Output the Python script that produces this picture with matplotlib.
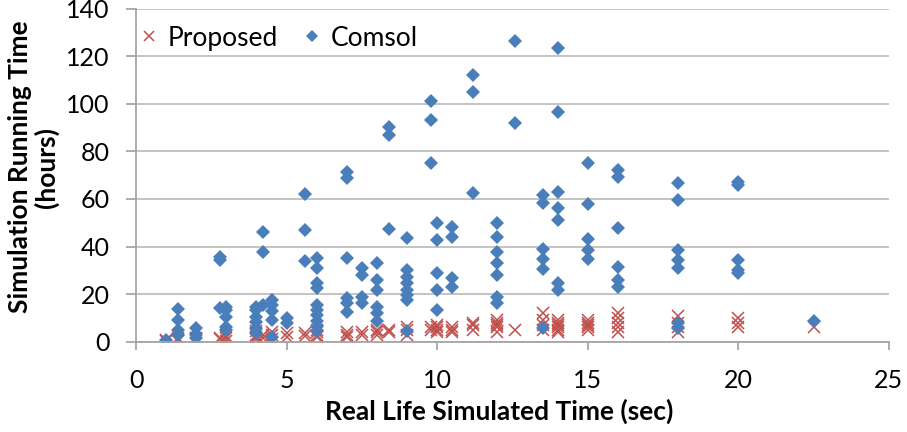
import matplotlib.pyplot as plt

# Simulation running time versus simulated real-life time
comsol_x = [1.0,
            1.4, 1.4, 1.4, 1.4,
            2.0, 2.0, 2.0,
            2.8, 2.8, 2.8,
            3.0, 3.0, 3.0, 3.0, 3.0,
            4.0, 4.0, 4.0, 4.0, 4.0, 4.0,
            4.2, 4.2, 4.2,
            4.5, 4.5, 4.5, 4.5, 4.5,
            5.0, 5.0,
            5.6, 5.6, 5.6,
            6.0, 6.0, 6.0, 6.0, 6.0, 6.0, 6.0, 6.0, 6.0, 6.0,
            7.0, 7.0, 7.0, 7.0, 7.0, 7.0,
            7.5, 7.5, 7.5, 7.5,
            8.0, 8.0, 8.0, 8.0, 8.0, 8.0,
            8.4, 8.4, 8.4,
            9.0, 9.0, 9.0, 9.0, 9.0, 9.0, 9.0, 9.0,
            9.8, 9.8, 9.8,
            10.0, 10.0, 10.0, 10.0, 10.0,
            10.5, 10.5, 10.5, 10.5,
            11.2, 11.2, 11.2,
            12.0, 12.0, 12.0, 12.0, 12.0, 12.0, 12.0,
            12.6, 12.6,
            13.5, 13.5, 13.5, 13.5, 13.5, 13.5,
            14.0, 14.0, 14.0, 14.0, 14.0, 14.0, 14.0,
            15.0, 15.0, 15.0, 15.0, 15.0,
            16.0, 16.0, 16.0, 16.0, 16.0, 16.0,
            18.0, 18.0, 18.0, 18.0, 18.0, 18.0, 18.0,
            20.0, 20.0, 20.0, 20.0, 20.0,
            22.5]
comsol_y = [0.7,
            13.7, 9.1, 4.9, 2.8,
            5.6, 3.2, 1.4,
            35.7, 34.5, 14.2,
            14.8, 13.3, 10.5, 6.3, 4.9,
            14.8, 13.3, 10.5, 8.4, 5.6, 3.5,
            46.2, 37.8, 15.5,
            17.5, 15.5, 12.7, 9.1, 2.1,
            10.0, 8.0,
            62.1, 46.9, 34.1,
            35.0, 30.8, 24.5, 22.4, 15.5, 13.3, 11.2, 8.5, 6.4, 4.3,
            71.5, 68.7, 35.0, 18.2, 16.1, 12.6,
            30.8, 28.0, 19.0, 16.1,
            33.0, 26.0, 21.8, 14.8, 12.0, 8.5,
            90.4, 86.9, 47.2,
            43.7, 30.2, 27.4, 24.5, 21.8, 19.7, 17.6, 4.3,
            101.3, 93.4, 75.2,
            49.7, 42.7, 28.7, 21.8, 13.3,
            48.3, 44.1, 26.6, 23.1,
            112.0, 105.0, 62.7,
            49.7, 44.1, 37.8, 33.0, 28.1, 19.0, 16.1,
            126.6, 92.1,
            61.7, 58.2, 38.8, 34.7, 30.5, 5.6,
            123.3, 96.7, 62.9, 56.1, 51.2, 24.5, 21.8,
            75.0, 58.0, 43.0, 38.5, 34.7,
            72.1, 69.4, 47.7, 31.5, 26.0, 23.2,
            66.9, 59.6, 38.5, 34.3, 30.8, 7.7, 5.6,
            67.3, 65.9, 34.3, 30.2, 28.7,
            8.8]

proposed_x = [1.0, 1.0,
              1.4, 1.4, 1.4,
              2.0, 2.0, 2.0,
              2.8, 2.8,
              3.0, 3.0, 3.0,
              4.0, 4.0, 4.0, 4.0,
              4.2, 4.2,
              4.5, 4.5, 4.5,
              5.0, 5.0,
              5.6, 5.6,
              6.0, 6.0, 6.0, 6.0,
              7.0, 7.0, 7.0,
              7.5, 7.5,
              8.0, 8.0, 8.0,
              8.4, 8.4,
              9.0, 9.0, 9.0,
              9.8, 9.8,
              10.0, 10.0, 10.0, 10.0,
              10.5, 10.5, 10.5,
              11.2, 11.2, 11.2,
              12.0, 12.0, 12.0, 12.0, 12.0,
              12.6,
              13.5, 13.5, 13.5, 13.5,
              14.0, 14.0, 14.0, 14.0, 14.0, 14.0,
              15.0, 15.0, 15.0, 15.0, 15.0,
              16.0, 16.0, 16.0, 16.0, 16.0,
              18.0, 18.0, 18.0, 18.0,
              20.0, 20.0, 20.0,
              22.5]
proposed_y = [0.3, 0.8,
              0.5, 1.0, 1.5,
              0.5, 1.0, 1.5,
              1.0, 1.5,
              0.5, 1.5, 2.5,
              1.0, 2.0, 3.0, 4.5,
              1.5, 3.0,
              1.0, 3.0, 4.0,
              2.0, 3.5,
              2.5, 3.5,
              2.0, 3.0, 4.0, 5.0,
              2.0, 3.0, 4.0,
              3.0, 4.0,
              3.0, 4.0, 5.0,
              4.0, 5.0,
              3.0, 5.0, 6.0,
              5.0, 6.0,
              4.0, 5.0, 6.0, 7.0,
              4.0, 5.0, 6.0,
              5.0, 7.0, 8.0,
              4.0, 6.0, 7.0, 8.0, 9.0,
              5.0,
              5.0, 7.0, 9.0, 12.0,
              4.0, 5.0, 6.0, 7.0, 8.0, 9.0,
              5.0, 6.0, 7.0, 8.0, 9.0,
              4.0, 6.0, 8.0, 10.0, 12.0,
              4.0, 6.0, 8.0, 11.0,
              6.0, 8.0, 10.0,
              6.0]

plt.rcParams['font.family'] = ['Lato', 'DejaVu Sans']

fig = plt.figure(figsize=(9.07, 4.32), dpi=100)
ax = fig.add_axes([0.150, 0.209, 0.830, 0.771])

ax.plot(proposed_x, proposed_y, linestyle='none', marker='x', markersize=9,
        markeredgewidth=1.1, color='#C0504D', label='Proposed')
ax.plot(comsol_x, comsol_y, linestyle='none', marker='D', markersize=7.5,
        color='#4A7EBB', markeredgewidth=0, label='Comsol')

ax.set_xlim(0, 25)
ax.set_ylim(0, 140)
ax.set_xticks(range(0, 26, 5))
ax.set_yticks(range(0, 141, 20))
ax.grid(axis='y', color='#BEBEBE', linewidth=1.3)
ax.set_axisbelow(True)
for side in ['top', 'right']:
    ax.spines[side].set_visible(False)
for side in ['left', 'bottom']:
    ax.spines[side].set_color('#A6A6A6')
    ax.spines[side].set_linewidth(1.3)
ax.tick_params(axis='both', which='major', labelsize=18,
               color='#A6A6A6', width=1.3)
ax.tick_params(axis='y', length=7, pad=12)
ax.tick_params(axis='x', length=6, pad=14)

ax.set_xlabel('Real Life Simulated Time (sec)', fontsize=19, fontweight='bold')
ax.set_ylabel('Simulation Running Time\n(hours)', fontsize=19,
              fontweight='bold', linespacing=1.05)
ax.xaxis.set_label_coords(0.482, -0.172)
ax.yaxis.set_label_coords(-0.103, 0.524)

ax.legend(loc='upper left', frameon=False, fontsize=19, handlelength=0.6,
          handletextpad=0.4, columnspacing=1.0, ncol=2, borderaxespad=0.0,
          borderpad=0.2, markerscale=0.85, bbox_to_anchor=(0.0, 0.965))

fig.savefig('out.png', dpi=100)
